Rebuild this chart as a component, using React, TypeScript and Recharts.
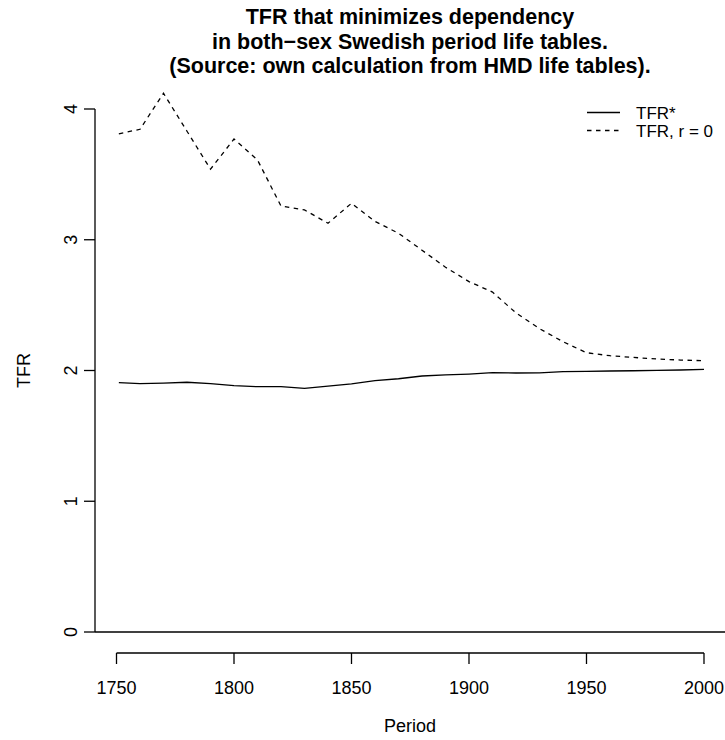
import { LineChart, Line, XAxis, YAxis, ReferenceLine, Legend, Label } from "recharts";

const FONT = "'Liberation Sans', Arial, Helvetica, sans-serif";

// periods (first HMD year is 1751)
const years = [
  1751, 1760, 1770, 1780, 1790, 1800, 1810, 1820, 1830, 1840, 1850, 1860, 1870,
  1880, 1890, 1900, 1910, 1920, 1930, 1940, 1950, 1960, 1970, 1980, 1990, 2000,
];

// TFR* (minimizes dependency)
const tfrStar = [
  1.907, 1.899, 1.904, 1.91, 1.9, 1.884, 1.876, 1.876, 1.864, 1.881, 1.897, 1.922, 1.937,
  1.958, 1.966, 1.973, 1.983, 1.981, 1.982, 1.991, 1.994, 1.996, 1.998, 2.001, 2.004, 2.009,
];

// TFR at r = 0
const tfrR0 = [
  3.81, 3.845, 4.12, 3.83, 3.54, 3.77, 3.61, 3.258, 3.228, 3.126, 3.279, 3.14, 3.05,
  2.92, 2.79, 2.68, 2.6, 2.44, 2.32, 2.22, 2.136, 2.113, 2.1, 2.088, 2.08, 2.075,
];

const xTicks = [1750, 1800, 1850, 1900, 1950, 2000];
const yTicks = [0, 1, 2, 3, 4];
const seriesNames = ["TFR*", "TFR, r = 0"];
const titleLines = [
  "TFR that minimizes dependency",
  "in both\u2212sex Swedish period life tables.",
  "(Source: own calculation from HMD life tables).",
];

const X_MIN = 1740.85;
const X_MAX = 2008.94;
const Y_MIN = -0.1606;
const Y_MAX = 4.1453;

const data = years.map((year, i) => ({ year, star: tfrStar[i], r0: tfrR0[i] }));

const XTick = ({ x, y, payload }: any) => (
  <text x={x} y={y + 29.5} textAnchor="middle" fontSize={18} fontFamily={FONT} fill="#000">
    {payload.value}
  </text>
);

// R style: y labels parallel to the axis
const YTick = ({ x, y, payload }: any) => (
  <text
    x={x - 7}
    y={y}
    transform={`rotate(-90, ${x - 7}, ${y})`}
    textAnchor="middle"
    fontSize={18}
    fontFamily={FONT}
    fill="#000"
  >
    {payload.value}
  </text>
);

const LegendBox = ({ payload }: any) => {
  const items = payload && payload.length ? payload : seriesNames.map((value) => ({ value }));
  return (
    <svg width={145} height={44}>
      {items.map((item: any, i: number) => (
        <g key={item.value}>
          <line
            x1={7}
            x2={40}
            y1={12.5 + i * 18}
            y2={12.5 + i * 18}
            stroke="#000"
            strokeWidth={1.3}
            strokeDasharray={i === 1 ? "4.5 4.5" : undefined}
          />
          <text x={56} y={18.5 + i * 18} fontSize={17} fontFamily={FONT} fill="#000">
            {item.value}
          </text>
        </g>
      ))}
    </svg>
  );
};

export default function App() {
  return (
    <div style={{ position: "absolute", left: 0, top: 0, width: 725, height: 740, background: "#fff" }}>
      <div
        style={{
          position: "absolute",
          left: 95,
          width: 630,
          top: 5,
          textAlign: "center",
          fontFamily: FONT,
          fontWeight: "bold",
          fontSize: 21.5,
          lineHeight: "24.5px",
          color: "#000",
        }}
      >
        {titleLines.map((t) => (
          <div key={t}>{t}</div>
        ))}
      </div>
      <LineChart
        width={725}
        height={740}
        data={data}
        margin={{ top: 90, right: 0, bottom: 0, left: 15 }}
        style={{ fontFamily: FONT }}
      >
        <XAxis
          dataKey="year"
          type="number"
          domain={[X_MIN, X_MAX]}
          ticks={xTicks}
          interval={0}
          height={87}
          axisLine={false}
          tickLine={{ stroke: "#000", strokeWidth: 1.3 }}
          tickSize={11}
          tickMargin={0}
          tick={<XTick />}
        >
          <Label
            content={({ viewBox }: any) => (
              <text
                x={viewBox.x + viewBox.width / 2}
                y={viewBox.y + 79}
                textAnchor="middle"
                fontSize={18}
                fontFamily={FONT}
                fill="#000"
              >
                Period
              </text>
            )}
          />
        </XAxis>
        <YAxis
          type="number"
          domain={[Y_MIN, Y_MAX]}
          ticks={yTicks}
          interval={0}
          width={80}
          axisLine={false}
          tickLine={{ stroke: "#000", strokeWidth: 1.3 }}
          tickSize={11}
          tickMargin={0}
          tick={<YTick />}
        >
          <Label
            content={({ viewBox }: any) => {
              const lx = viewBox.x + 15;
              const ly = viewBox.y + viewBox.height / 2 - 1;
              return (
                <text
                  x={lx}
                  y={ly}
                  transform={`rotate(-90, ${lx}, ${ly})`}
                  textAnchor="middle"
                  fontSize={18}
                  fontFamily={FONT}
                  fill="#000"
                >
                  TFR
                </text>
              );
            }}
          />
        </YAxis>
        <ReferenceLine y={0} stroke="#000" strokeWidth={1.3} />
        <ReferenceLine
          segment={[
            { x: X_MIN, y: 0 },
            { x: X_MIN, y: 4 },
          ]}
          stroke="#000"
          strokeWidth={1.3}
        />
        <ReferenceLine
          segment={[
            { x: 1750, y: Y_MIN },
            { x: 2000, y: Y_MIN },
          ]}
          stroke="#000"
          strokeWidth={1.3}
        />
        <Line
          dataKey="star"
          name={seriesNames[0]}
          type="linear"
          stroke="#000"
          strokeWidth={1.3}
          dot={false}
          isAnimationActive={false}
        />
        <Line
          dataKey="r0"
          name={seriesNames[1]}
          type="linear"
          stroke="#000"
          strokeWidth={1.3}
          strokeDasharray="4.5 4.5"
          dot={false}
          isAnimationActive={false}
        />
        <Legend
          layout="horizontal"
          verticalAlign="middle"
          align="center"
          content={<LegendBox />}
          wrapperStyle={{ left: 580, top: 100, width: 145, height: 44 }}
        />
      </LineChart>
    </div>
  );
}
